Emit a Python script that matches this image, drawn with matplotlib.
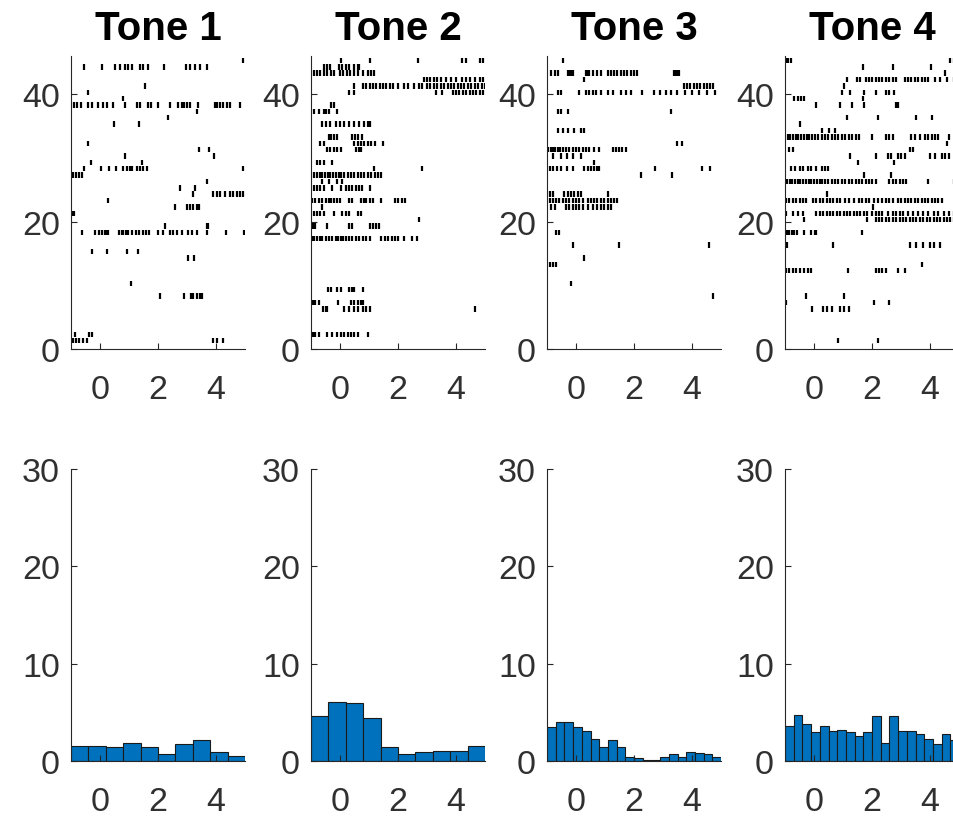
import numpy as np
import matplotlib
matplotlib.use('Agg')
import matplotlib.pyplot as plt

plt.rcParams['font.family'] = ['Liberation Sans', 'DejaVu Sans']

# -- DATA: spike times (s) per trial
tone1_spikes = {
    45: [4.92],
    44: [-0.55, 0.06, 0.52, 0.69, 0.86, 0.98, 1.09, 1.38, 1.49, 1.66, 2.21, 2.97, 3.10, 3.28, 3.45, 3.68],
    41: [1.55],
    40: [-0.40],
    39: [0.80],
    38: [-0.90, -0.80, -0.67, -0.40, -0.29, -0.06, 0.09, 0.23, 0.44, 0.86, 1.26, 1.38, 1.67, 1.75, 2.01,
         2.41, 2.70, 2.82, 2.90, 2.99, 3.10, 3.39, 3.97, 4.05, 4.14, 4.25, 4.37, 4.48, 4.83],
    37: [3.33],
    36: [2.36],
    35: [0.48, 1.36],
    32: [-0.40],
    31: [3.43, 3.77],
    30: [0.86, 3.93],
    29: [-0.32, 1.44],
    28: [-0.55, 0.02, 0.32, 0.55, 0.80, 0.92, 1.03, 1.09, 1.26, 1.38, 1.49, 1.61, 4.92],
    27: [-0.94, -0.83, -0.71, -0.63],
    26: [3.68],
    25: [2.76, 3.28],
    24: [3.20, 3.89, 4.02, 4.14, 4.31, 4.48, 4.60, 4.71, 4.83, 4.94],
    23: [0.29],
    22: [2.59, 2.99, 3.10, 3.22, 3.33, 3.43],
    21: [-0.94, -0.90],
    19: [2.24, 3.68, 3.74],
    18: [-0.63, -0.17, -0.02, 0.06, 0.17, 0.23, 0.29, 0.67, 0.75, 0.80, 0.90, 0.98, 1.09, 1.24, 1.36,
         1.49, 1.59, 1.70, 2.01, 2.18, 2.41, 2.53, 2.64, 2.82, 3.05, 3.16, 3.33, 3.68, 4.34, 4.97],
    15: [-0.29, 0.23, 0.92, 1.32],
    14: [3.05, 3.24],
    10: [1.06],
    8: [2.07, 2.90, 3.14, 3.22, 3.33, 3.45, 3.51],
    2: [-0.86, -0.37, -0.29],
    1: [-0.94, -0.83, -0.71, -0.60, -0.46, 3.89, 4.02, 4.23],
}

tone2_spikes = {
    45: [0.05, 1.02, 2.69, 4.21, 4.35, 4.82, 4.94],
    44: [-0.56, -0.44, -0.33, -0.04, 0.08, 0.20, 0.32, 0.49, 0.61, 0.67],
    43: [-0.91, -0.80, -0.68, -0.56, -0.44, -0.30, -0.19, 0.00, 0.12, 0.23, 0.35, 0.49, 0.61, 0.78,
         0.96, 1.08, 1.17],
    42: [2.89, 3.01, 3.12, 3.24, 3.36, 3.47, 3.67, 3.82, 4.00, 4.21, 4.35, 4.47, 4.64, 4.82, 4.94],
    41: [0.49, 0.78, 0.90, 1.02, 1.13, 1.25, 1.37, 1.49, 1.60, 1.72, 1.84, 2.01, 2.19, 2.36, 2.54,
         2.71, 2.83, 3.01, 3.12, 3.24, 3.36, 3.47, 3.59, 3.71, 3.82, 3.94, 4.06, 4.18, 4.29, 4.41,
         4.53, 4.64, 4.76, 4.88, 4.99],
    40: [0.32, 0.49, 3.30, 3.53, 3.88, 4.00, 4.12, 4.23, 4.35, 4.47, 4.58, 4.70, 4.82, 4.94],
    38: [-0.30, -0.21],
    37: [-0.89, -0.74, -0.56, -0.47, -0.39, -0.09],
    35: [-0.62, -0.47, -0.33, -0.15, 0.00, 0.14, 0.32, 0.49, 0.67, 0.84, 0.96, 1.02],
    33: [-0.39, -0.30, -0.21, -0.12, 0.40, 0.51, 0.63, 0.75],
    32: [-0.70, -0.56, 0.49, 0.61, 0.73, 0.84, 0.96, 1.08, 1.19, 1.49],
    31: [-0.44, -0.33, -0.21, -0.09, 0.02, 0.55, 0.67, 0.73],
    29: [-0.80, -0.68, -0.56, -0.27],
    28: [1.17, 2.81],
    27: [-0.89, -0.80, -0.70, -0.61, -0.51, -0.42, -0.33, -0.23, -0.14, -0.05, 0.05, 0.14, 0.26,
         0.37, 0.49, 0.61, 0.73, 0.84, 0.96, 1.08, 1.19, 1.31, 1.43],
    26: [-0.62, -0.39, -0.12, 0.08],
    25: [-0.91, -0.80, -0.68, -0.54, -0.27, 0.02, 0.20, 0.32, 0.43, 0.55, 0.67, 0.75, 1.02],
    23: [-0.97, -0.85, -0.74, -0.62, -0.50, -0.39, -0.30, -0.21, -0.12, 0.00, 0.32, 0.43, 0.73,
         0.82, 0.91, 1.02, 1.13, 1.43, 1.89, 2.01, 2.13, 2.25],
    22: [-0.62],
    21: [-0.91, -0.80, -0.68, -0.54, -0.21, 0.08, 0.20, 0.32, 0.61, 0.73],
    20: [2.74],
    19: [-0.97, -0.91, -0.85, -0.44, 0.32, 0.43, 1.02, 1.13, 1.25, 1.33],
    17: [-0.97, -0.89, -0.80, -0.70, -0.61, -0.50, -0.39, -0.27, -0.15, -0.07, 0.02, 0.12, 0.20,
         0.32, 0.43, 0.55, 0.67, 0.78, 0.90, 1.02, 1.43, 1.54, 1.66, 1.78, 1.89, 2.01, 2.19, 2.48, 2.66],
    9: [-0.42, -0.30, -0.09, 0.05, 0.32, 0.43, 0.49, 0.78],
    7: [-0.97, -0.94, -0.85, -0.74, -0.07, 0.37, 0.49, 0.61, 0.73, 0.78],
    6: [-0.58, -0.50, -0.44, 0.14, 0.32, 0.49, 0.61, 0.78, 0.90, 1.02, 4.64],
    2: [-0.94, -0.85, -0.74, -0.44, -0.27, -0.09, 0.02, 0.14, 0.26, 0.37, 0.49, 0.61, 0.96],
}

tone3_spikes = {
    45: [-0.46],
    43: [-0.86, -0.74, -0.63, -0.29, -0.23, -0.17, -0.11, 0.34, 0.40, 0.46, 0.57, 0.74, 0.86, 1.09,
         1.20, 1.31, 1.43, 1.54, 1.66, 1.77, 1.89, 2.00, 2.11, 3.37, 3.43, 3.49, 3.54],
    42: [0.26],
    41: [3.71, 3.83, 3.94, 4.06, 4.17, 4.29, 4.40, 4.51, 4.63, 4.74],
    40: [-0.63, -0.51, 0.11, 0.34, 0.46, 0.57, 0.69, 0.86, 1.09, 1.26, 1.54, 1.71, 1.89, 2.29, 2.69,
         2.91, 3.09, 3.26, 3.49, 3.77, 4.00, 4.23, 4.51, 4.80],
    37: [-0.63, -0.51, -0.29, 3.26],
    34: [-0.63, -0.46, -0.29, -0.06, 0.17, 0.29],
    32: [3.49, 3.66],
    31: [-0.97, -0.88, -0.80, -0.72, -0.63, -0.54, -0.45, -0.34, -0.23, -0.11, 0.00, 0.11, 0.23,
         0.34, 0.46, 0.63, 0.80, 1.26, 1.37, 1.49, 1.60, 1.71],
    30: [-0.80, -0.51, -0.31, -0.11, 0.17],
    29: [0.63],
    28: [-0.91, -0.80, -0.65, -0.51, -0.31, -0.11, 0.29, 0.40, 0.51, 0.63, 0.74, 0.80, 2.74, 4.34, 4.63],
    27: [2.23, 3.31],
    24: [-0.91, -0.80, -0.40, -0.29, -0.17, -0.06, 0.06, 0.17, 1.09],
    23: [-0.91, -0.80, -0.69, -0.57, -0.46, -0.34, -0.23, -0.11, 0.00, 0.11, 0.23, 0.40, 0.51, 0.63,
         0.74, 0.86, 0.97, 1.09, 1.20, 1.31, 1.43],
    22: [-0.86, -0.74, -0.34, -0.23, -0.11, 0.00, 0.11, 0.23, 0.40, 0.57, 0.74, 0.86, 0.97, 1.09, 1.20],
    18: [-0.69, -0.57],
    16: [-0.11, 1.49, 4.57],
    14: [0.26],
    13: [-0.91, -0.80, -0.69],
    10: [-0.17],
    8: [4.74],
}

tone4_spikes = {
    45: [-0.97, -0.89, -0.80, 4.70, 4.82],
    44: [1.68, 2.71, 4.02],
    43: [4.53],
    42: [1.13, 1.49, 1.60, 1.78, 1.89, 2.01, 2.13, 2.25, 2.36, 2.48, 2.60, 2.71, 2.83, 3.12, 3.24,
         3.36, 3.47, 3.59, 3.71, 3.82, 3.94, 4.18, 4.35, 4.58, 4.82],
    41: [1.05],
    40: [0.96, 1.25, 1.72, 2.13, 2.48, 2.60, 2.77],
    39: [-0.68, -0.56, -0.44, -0.33, 1.68],
    38: [0.08, 0.90, 1.31, 1.72, 2.83, 2.89],
    36: [1.13, 2.19, 3.53, 4.06],
    35: [-0.47],
    34: [0.26, 0.51, 0.73],
    33: [-0.91, -0.82, -0.73, -0.63, -0.54, -0.44, -0.35, -0.26, -0.16, -0.07, 0.02, 0.14, 0.26,
         0.37, 0.49, 0.61, 0.73, 0.84, 0.96, 1.08, 1.19, 1.31, 1.43, 1.54, 2.01, 2.48, 2.60, 2.71,
         3.36, 3.47, 3.65, 3.82, 3.94, 4.06, 4.18, 4.29, 4.64],
    32: [4.58],
    31: [-0.85, -0.74, 3.30, 3.42],
    30: [1.25, 2.13, 2.54, 2.65, 2.89, 3.01, 3.12, 4.00, 4.18, 4.41, 4.53, 4.64],
    29: [1.52, 2.77],
    28: [-0.80, -0.65, -0.50, -0.39, -0.21, -0.09, 0.08, 0.26, 0.37, 0.49],
    27: [1.72, 2.65],
    26: [-0.94, -0.84, -0.75, -0.65, -0.56, -0.47, -0.37, -0.28, -0.19, -0.09, 0.00, 0.09, 0.19,
         0.28, 0.37, 0.49, 0.61, 0.73, 0.84, 0.96, 1.08, 1.19, 1.31, 1.43, 1.54, 1.66, 1.78, 1.89,
         2.01, 2.13, 2.60, 2.71, 2.83, 2.95, 3.07, 3.18, 3.94, 4.82],
    24: [0.43],
    23: [-0.97, -0.85, -0.74, -0.62, -0.50, -0.39, -0.27, -0.04, 0.08, 0.20, 0.32, 0.43, 0.55, 0.67,
         0.78, 0.90, 1.08, 1.19, 1.37, 1.54, 1.66, 1.78, 1.89, 2.07, 2.19, 2.36, 2.48, 2.60, 2.71,
         2.89, 3.01, 3.12, 3.24, 3.36, 3.47, 3.59, 3.71, 3.82, 3.94, 4.06, 4.18, 4.29, 4.41],
    22: [2.04],
    21: [-0.97, -0.74, -0.56, -0.39, 0.08, 0.20, 0.32, 0.43, 0.55, 0.67, 0.78, 0.90, 1.02, 1.13,
         1.25, 1.37, 1.49, 1.60, 1.72, 1.84, 2.01, 2.13, 2.25, 2.36, 2.54, 2.71, 2.83, 2.95, 3.06,
         3.24, 3.42, 3.59, 3.77, 3.94, 4.12, 4.29, 4.47, 4.64, 4.82],
    20: [-0.33, 1.84, 2.13, 2.25, 2.36, 2.48, 2.60, 2.71, 2.83, 2.95, 3.06, 3.18, 3.30, 3.42, 3.53,
         3.65, 3.77, 3.88, 4.00, 4.12, 4.23, 4.35, 4.47, 4.58, 4.70, 4.82],
    18: [-0.94, -0.85, -0.77, -0.68, -0.58, -0.33, -0.09, 0.02, 0.08, 1.66],
    16: [-0.94, 0.67, 3.30, 3.53, 3.77, 4.00, 4.12, 4.35],
    13: [3.71],
    12: [-0.97, -0.85, -0.74, -0.62, -0.50, -0.33, -0.21, -0.12, 1.17, 2.13, 2.25, 2.36, 2.48, 2.89, 3.12],
    8: [-0.27, 1.05],
    7: [-0.97, 2.07, 2.60],
    6: [-0.07, 0.32, 0.43, 0.61, 0.90, 1.02, 1.19],
    1: [0.84, 2.19],
}

# -- DATA: PSTH bar heights (spikes/s), bins spanning -1..5 s
psth1 = [1.58, 1.58, 1.44, 1.85, 1.44, 0.75, 1.71, 2.12, 0.89, 0.48]
psth2 = [4.59, 6.06, 5.92, 4.42, 1.44, 0.75, 0.89, 1.03, 1.03, 1.58]
psth3 = [3.49, 4.04, 4.04, 3.49, 3.08, 2.26, 1.44, 2.12, 1.44, 0.41,
         0.27, 0.14, 0.14, 0.41, 0.75, 0.41, 0.89, 0.82, 0.75, 0.41]
psth4 = [3.63, 4.73, 3.77, 2.95, 3.63, 3.08, 3.22, 2.95, 2.53, 2.95,
         4.59, 1.85, 4.59, 3.08, 3.08, 2.81, 2.26, 1.71, 2.81, 2.15]

titles = ['Tone 1', 'Tone 2', 'Tone 3', 'Tone 4']
rasters = [tone1_spikes, tone2_spikes, tone3_spikes, tone4_spikes]
psths = [psth1, psth2, psth3, psth4]
t_start, t_stop = -1, 5
n_trials = 46


def style_axes(ax):
    gray = '#262626'
    for s in ['top', 'right']:
        ax.spines[s].set_visible(False)
    for s in ['left', 'bottom']:
        ax.spines[s].set_color(gray)
        ax.spines[s].set_linewidth(0.8)
    ax.tick_params(axis='both', direction='in', length=4, width=0.8, colors=gray,
                   labelsize=24.5, labelcolor='#303030')
    ax.tick_params(axis='x', pad=18)
    ax.tick_params(axis='y', pad=8)


def main():
    fig = plt.figure(figsize=(9.54, 8.2), dpi=100)

    lefts = [0.0744, 0.326, 0.5734, 0.8229]
    width = 0.1824

    for i in range(4):
        # -- RASTER
        ax = fig.add_axes([lefts[i], 0.5732, width, 0.3573])
        trials = sorted(rasters[i].keys())
        positions = [rasters[i][k] for k in trials]
        offsets = np.array(trials) + 0.3
        ax.eventplot(positions, lineoffsets=offsets, linelengths=0.85,
                     colors='black', linewidths=1.6)
        ax.set_xlim(t_start, t_stop)
        ax.set_ylim(0, n_trials)
        ax.set_xticks([0, 2, 4])
        ax.set_yticks([0, 20, 40])
        style_axes(ax)
        ax.set_title(titles[i], fontsize=29, fontweight='bold', pad=12)

        # -- PSTH
        ax2 = fig.add_axes([lefts[i], 0.0707, width, 0.3561])
        edges = np.linspace(t_start, t_stop, len(psths[i]) + 1)
        ax2.bar(edges[:-1], psths[i], width=np.diff(edges), align='edge',
                color='#0072BD', edgecolor='#1a1a1a', linewidth=0.8)
        ax2.set_xlim(t_start, t_stop)
        ax2.set_ylim(0, 30)
        ax2.set_xticks([0, 2, 4])
        ax2.set_yticks([0, 10, 20, 30])
        style_axes(ax2)

    fig.savefig('out.png', dpi=100)


main()
